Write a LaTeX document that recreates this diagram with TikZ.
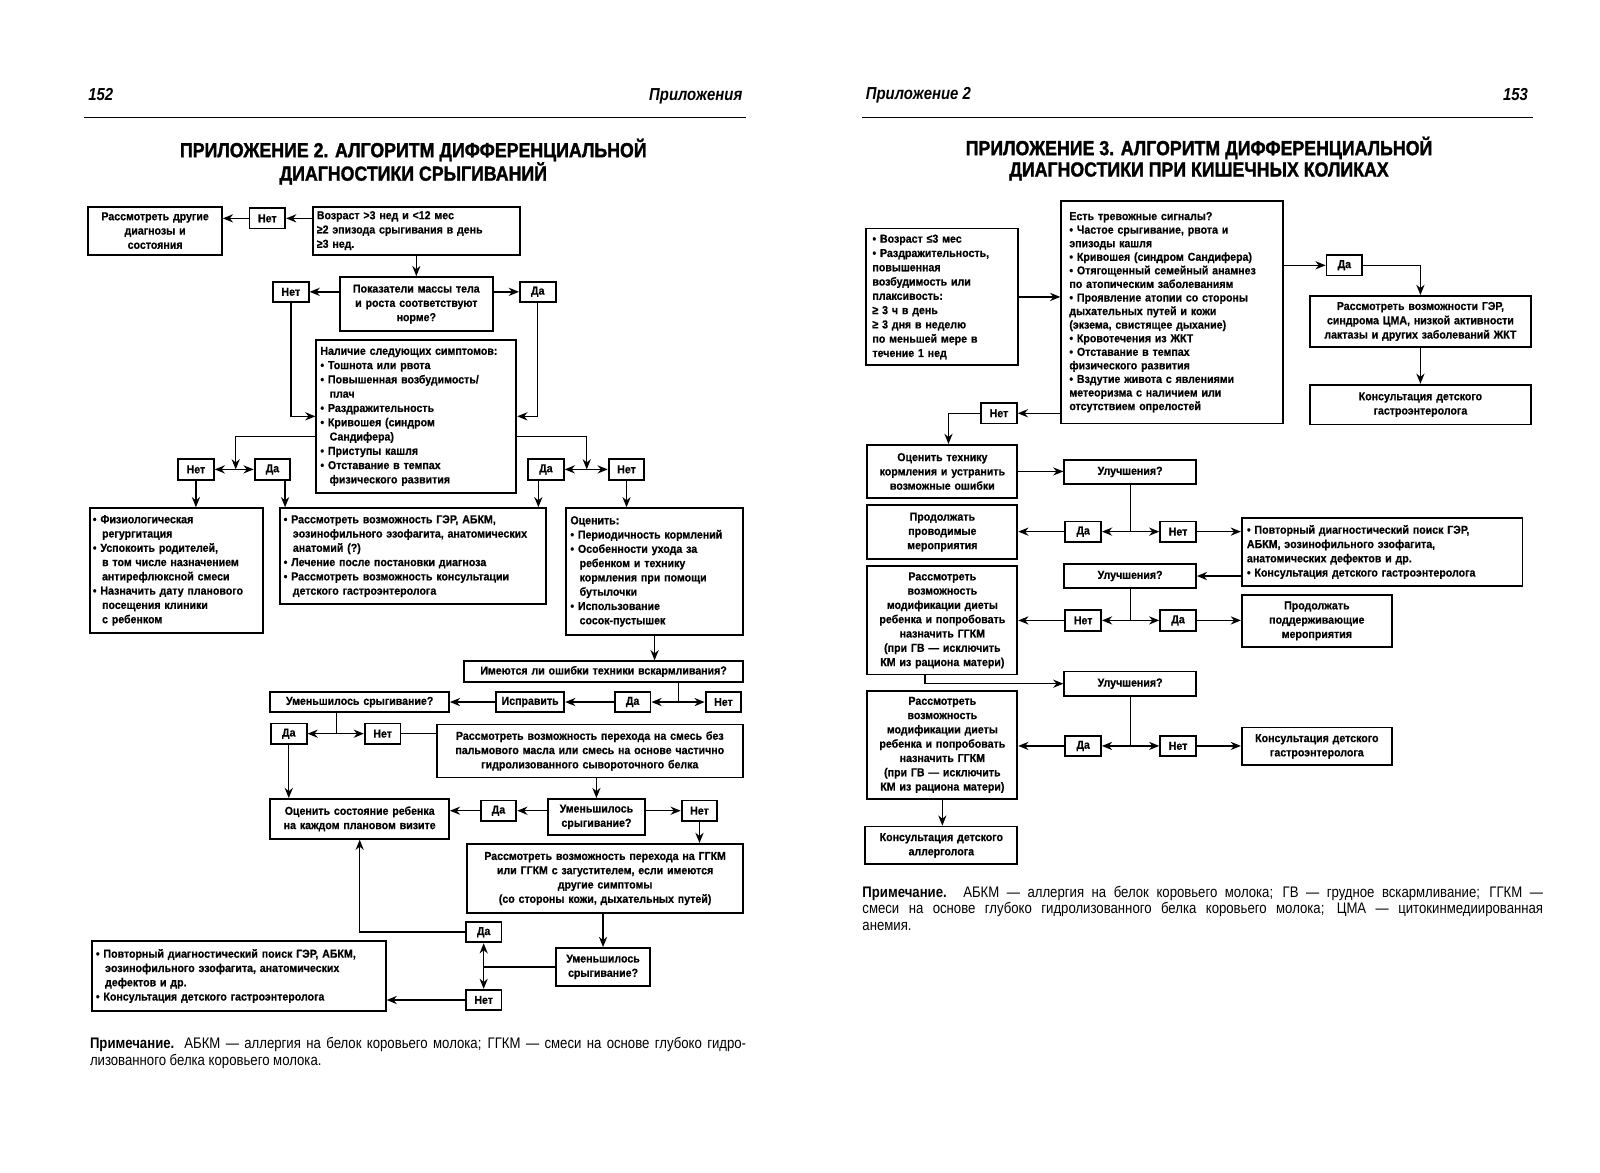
\documentclass[tikz,border=0pt]{standalone}
\usepackage{fontspec}
\setmainfont{Liberation Sans}
\newfontfamily\boxfont{Liberation Sans}[FakeStretch=0.92, FakeBold=0.6]
\newfontfamily\cndfont{Liberation Sans}[FakeStretch=0.86]
\newfontfamily\ttlfont{Liberation Sans}[FakeStretch=0.87, FakeBold=1.5]
\usetikzlibrary{arrows.meta}
\usetikzlibrary{calc}
\newcommand{\hg}{\hspace*{0.8em}}
\tikzset{
  box/.style={draw, line width=1.8pt, inner xsep=3pt, inner ysep=2pt,
    font=\boxfont\bfseries\fontsize{11.3}{14}\selectfont},
  cbox/.style={box, align=center},
  lbox/.style={box, align=left},
  yn/.style={box, minimum width=35pt, minimum height=20pt, inner xsep=1pt},
  arr/.style={line width=1.4pt, -{Stealth[length=10pt,width=8pt]}},
  ln/.style={line width=1.4pt},
  ttl/.style={font=\ttlfont\bfseries\fontsize{20}{23}\selectfont},
  hdr/.style={font=\cndfont\bfseries\itshape\fontsize{17}{20}\selectfont},
  note/.style={font=\cndfont\fontsize{15}{16.5}\selectfont, align=left,
    inner sep=0pt, anchor=north west}
}

\begin{document}
\begin{tikzpicture}[x=1pt, y=-1pt]
  \useasboundingbox (0,0) rectangle (1568,1149);

  % page 152
  \node[hdr, anchor=west] (pgl) at (83,93) {152};
  \node[hdr, anchor=east] (hdl) at (731,94) {Приложения};
  \draw[line width=1.5pt] (82,115) -- (731,115);
  \node[ttl] (tla) at (405,147) {ПРИЛОЖЕНИЕ 2. АЛГОРИТМ ДИФФЕРЕНЦИАЛЬНОЙ};
  \node[ttl] (tlb) at (405,170) {ДИАГНОСТИКИ СРЫГИВАНИЙ};

  \node[cbox, text width=125pt, minimum height=47pt] (othr) at (152,226)
    {Рассмотреть другие\\диагнозы и\\состояния};
  \node[yn] (n1) at (262,214) {Нет};
  \node[lbox, text width=195pt, minimum height=47pt, inner xsep=4pt] (age) at (408,226)
    {Возраст >3 нед и <12 мес\\≥2 эпизода срыгивания в день\\≥3 нед.};
  \node[cbox, text width=144pt, minimum height=53pt] (norm) at (408,298)
    {Показатели массы тела\\и роста соответствуют\\норме?};
  \node[yn] (n2) at (285,286) {Нет};
  \node[yn] (y2) at (527,286) {Да};
  \node[lbox, text width=188pt, minimum height=150pt, inner xsep=4pt] (symp) at (408,408)
    {Наличие следующих симптомов:\\• Тошнота или рвота\\• Повышенная возбудимость/\\\hg плач\\
     • Раздражительность\\• Кривошея (синдром\\\hg Сандифера)\\• Приступы кашля\\
     • Отставание в темпах\\\hg физического развития};
  \node[yn] (n3) at (192,460) {Нет};
  \node[yn] (y3) at (267,460) {Да};
  \node[yn] (y4) at (535,460) {Да};
  \node[yn] (n4) at (614,460) {Нет};

  \node[lbox, text width=164pt, minimum height=122pt] (phys) at (173,559)
    {• Физиологическая\\\hg регургитация\\• Успокоить родителей,\\\hg в том числе назначением\\
     \hg антирефлюксной смеси\\• Назначить дату планового\\\hg посещения клиники\\\hg с ребенком};
  \node[lbox, text width=253pt, minimum height=94pt, inner xsep=4pt] (gerd) at (404.5,545)
    {• Рассмотреть возможность ГЭР, АБКМ,\\\hg эозинофильного эзофагита, анатомических\\
     \hg анатомий (?)\\• Лечение после постановки диагноза\\
     • Рассмотреть возможность консультации\\\hg детского гастроэнтеролога};
  \node[lbox, text width=165pt, minimum height=124pt, inner xsep=4pt] (eval) at (641.5,560)
    {Оценить:\\• Периодичность кормлений\\• Особенности ухода за\\\hg ребенком и технику\\
     \hg кормления при помощи\\\hg бутылочки\\• Использование\\\hg сосок-пустышек};

  \node[cbox, text width=267pt, minimum height=20pt] (err) at (591.5,658)
    {Имеются ли ошибки техники вскармливания?};
  \node[yn] (y5) at (620,688) {Да};
  \node[yn] (n5) at (709,688) {Нет};
  \node[cbox, text width=61pt, minimum height=20pt] (fix) at (519.5,688) {Исправить};
  \node[cbox, text width=169pt, minimum height=20pt] (less1) at (352.5,688)
    {Уменьшилось срыгивание?};
  \node[yn] (y6) at (283,719) {Да};
  \node[yn] (n6) at (375,719) {Нет};
  \node[cbox, text width=294pt, minimum height=52pt] (palm) at (578,736)
    {Рассмотреть возможность перехода на смесь без\\пальмового масла или смесь на основе частично\\
     гидролизованного сывороточного белка};
  \node[cbox, text width=169pt, minimum height=39pt] (watch) at (352.5,802.5)
    {Оценить состояние ребенка\\на каждом плановом визите};
  \node[cbox, text width=89pt, minimum height=35pt] (less2) at (584.5,800.5)
    {Уменьшилось\\срыгивание?};
  \node[yn] (y7) at (488.5,794.5) {Да};
  \node[yn] (n7) at (685.5,794.5) {Нет};
  \node[cbox, text width=264pt, minimum height=68pt] (hydro) at (593,861)
    {Рассмотреть возможность перехода на ГГКМ\\или ГГКМ с загустителем, если имеются\\
     другие симптомы\\(со стороны кожи, дыхательных путей)};
  \node[cbox, text width=86pt, minimum height=37pt] (less3) at (591,947.5)
    {Уменьшилось\\срыгивание?};
  \node[yn] (y8) at (474,913.5) {Да};
  \node[yn] (n8) at (474,980) {Нет};
  \node[lbox, text width=280pt, minimum height=69pt, inner xsep=4pt] (rep) at (234,956.5)
    {• Повторный диагностический поиск ГЭР, АБКМ,\\\hg эозинофильного эзофагита, анатомических\\
     \hg дефектов и др.\\• Консультация детского гастроэнтеролога};

  \coordinate (jl) at (231,460);
  \coordinate (jr) at (575,460);
  \coordinate (a3) at ([xshift=-6pt]y3.south east);
  \coordinate (a4) at ([xshift=11pt]y4.south west);
  \coordinate (j5) at (665,688);
  \coordinate (j6) at (330,719);
  \coordinate (j8) at (474,947.5);

  \draw[arr] (age.west |- n1.east) -- (n1.east);
  \draw[arr] (n1.west) -- (othr.east |- n1.west);
  \draw[arr] (age.south) -- (norm.north);
  \draw[arr] (norm.west |- n2.east) -- (n2.east);
  \draw[arr] (norm.east |- y2.west) -- (y2.west);
  \draw[arr] (n2.south) |- (symp.west);
  \draw[arr] (y2.south) |- (symp.east);
  \draw[arr] ([yshift=-20pt]symp.west) -| (jl);
  \draw[arr] (jl) -- (n3.east);
  \draw[arr] (jl) -- (y3.west);
  \draw[arr] ([yshift=-20pt]symp.east) -| (jr);
  \draw[arr] (jr) -- (y4.east);
  \draw[arr] (jr) -- (n4.west);
  \draw[arr] (n3.south) -- (n3.south |- phys.north);
  \draw[arr] (a3) -- (a3 |- gerd.north);
  \draw[arr] (a4) -- (a4 |- gerd.north);
  \draw[arr] (n4.south) -- (n4.south |- eval.north);
  \draw[arr] (eval.south) -- (eval.south |- err.north);
  \draw[ln] (j5 |- err.south) -- (j5);
  \draw[arr] (j5) -- (y5.east);
  \draw[arr] (j5) -- (n5.west);
  \draw[arr] (y5.west) -- (fix.east);
  \draw[arr] (fix.west) -- (less1.east);
  \draw[ln] (j6 |- less1.south) -- (j6);
  \draw[arr] (j6) -- (y6.east);
  \draw[arr] (j6) -- (n6.west);
  \draw[ln] (n6.east) -- (palm.west |- n6.east);
  \draw[arr] (y6.south) -- (y6.south |- watch.north);
  \draw[arr] (less2.north |- palm.south) -- (less2.north);
  \draw[arr] (less2.west |- y7.east) -- (y7.east);
  \draw[arr] (y7.west) -- (watch.east |- y7.west);
  \draw[arr] (less2.east |- n7.west) -- (n7.west);
  \draw[arr] (n7.south) -- (n7.south |- hydro.north);
  \draw[arr] (less3.north |- hydro.south) -- (less3.north);
  \draw[ln] (less3.west) -- (j8);
  \draw[arr] (j8) -- (y8.south);
  \draw[arr] (j8) -- (n8.north);
  \draw[arr] (y8.west) -| (watch.south);
  \draw[arr] (n8.west) -- (rep.east |- n8.west);

  \node[note] (ntl) at (88,1016)
    {\makebox[643pt][s]{{\bfseries Примечание.} АБКМ — аллергия на белок коровьего молока; ГГКМ — смеси на основе глубоко гидро-}\\
     лизованного белка коровьего молока.};

  % page 153
  \node[hdr, anchor=west] (hdr) at (845,93) {Приложение 2};
  \node[hdr, anchor=east] (pgr) at (1501,93) {153};
  \draw[line width=1.5pt] (845,115) -- (1502,115);
  \node[ttl] (tra) at (1175,145) {ПРИЛОЖЕНИЕ 3. АЛГОРИТМ ДИФФЕРЕНЦИАЛЬНОЙ};
  \node[ttl] (trb) at (1175,168) {ДИАГНОСТИКИ ПРИ КИШЕЧНЫХ КОЛИКАХ};

  \node[lbox, text width=137pt, minimum height=134pt, inner xsep=6pt] (crit) at (923.5,291)
    {• Возраст ≤3 мес\\• Раздражительность,\\повышенная\\возбудимость или\\плаксивость:\\
     ≥ 3 ч в день\\≥ 3 дня в неделю\\по меньшей мере в\\течение 1 нед};
  \node[lbox, text width=201pt, minimum height=218pt, inner xsep=8pt,
    font=\boxfont\bfseries\fontsize{11.3}{13.3}\selectfont] (alarm) at (1148.5,306)
    {Есть тревожные сигналы?\\• Частое срыгивание, рвота и\\эпизоды кашля\\
     • Кривошея (синдром Сандифера)\\• Отягощенный семейный анамнез\\по атопическим заболеваниям\\
     • Проявление атопии со стороны\\дыхательных путей и кожи\\(экзема, свистящее дыхание)\\
     • Кровотечения из ЖКТ\\• Отставание в темпах\\физического развития\\
     • Вздутие живота с явлениями\\метеоризма с наличием или\\отсутствием опрелостей};
  \node[yn] (ry1) at (1317.5,260) {Да};
  \node[cbox, text width=210pt, minimum height=50pt] (rgerd) at (1392,315)
    {Рассмотреть возможности ГЭР,\\синдрома ЦМА, низкой активности\\лактазы и других заболеваний ЖКТ};
  \node[cbox, text width=210pt, minimum height=39pt] (gast1) at (1392,396.5)
    {Консультация детского\\гастроэнтеролога};
  \node[yn] (rn1) at (979,405) {Нет};
  \node[cbox, text width=141pt, minimum height=52pt] (tech) at (923.5,462)
    {Оценить технику\\кормления и устранить\\возможные ошибки};
  \node[cbox, text width=123pt, minimum height=23pt] (imp1) at (1107.5,462.5) {Улучшения?};
  \node[yn] (ry2) at (1061.5,521) {Да};
  \node[yn] (rn2) at (1154.5,521) {Нет};
  \node[cbox, text width=141pt, minimum height=53pt] (cont1) at (923.5,521.5)
    {Продолжать\\проводимые\\мероприятия};
  \node[lbox, text width=265pt, minimum height=66pt, inner xsep=5pt] (rrep) at (1354.5,541)
    {• Повторный диагностический поиск ГЭР,\\АБКМ, эозинофильного эзофагита,\\
     анатомических дефектов и др.\\• Консультация детского гастроэнтеролога};
  \node[cbox, text width=123pt, minimum height=23pt] (imp2) at (1107.5,564.5) {Улучшения?};
  \node[yn] (rn3) at (1061.5,608) {Нет};
  \node[yn] (ry3) at (1154.5,608) {Да};
  \node[cbox, text width=141pt, minimum height=106pt] (diet1) at (923.5,608)
    {Рассмотреть\\возможность\\модификации диеты\\ребенка и попробовать\\назначить ГГКМ\\
     (при ГВ — исключить\\КМ из рациона матери)};
  \node[cbox, text width=141pt, minimum height=51pt] (cont2) at (1290.5,608.5)
    {Продолжать\\поддерживающие\\мероприятия};
  \node[cbox, text width=123pt, minimum height=24pt] (imp3) at (1107.5,670) {Улучшения?};
  \node[yn] (ry4) at (1061.5,731) {Да};
  \node[yn] (rn4) at (1154.5,731) {Нет};
  \node[cbox, text width=141pt, minimum height=106pt] (diet2) at (923.5,730)
    {Рассмотреть\\возможность\\модификации диеты\\ребенка и попробовать\\назначить ГГКМ\\
     (при ГВ — исключить\\КМ из рациона матери)};
  \node[cbox, text width=141pt, minimum height=37pt] (gast2) at (1290.5,731.5)
    {Консультация детского\\гастроэнтеролога};
  \node[cbox, text width=143pt, minimum height=37pt] (allg) at (922.5,828.5)
    {Консультация детского\\аллерголога};

  \coordinate (k1) at (1108,521);
  \coordinate (k2) at (1108,608);
  \coordinate (k3) at (1108,731);
  \coordinate (d1) at ([xshift=-17pt]diet1.south);

  \draw[arr] (crit.east) -- (alarm.west |- crit.east);
  \draw[arr] (alarm.east |- ry1.west) -- (ry1.west);
  \draw[arr] (ry1.east) -| (rgerd.north);
  \draw[arr] (rgerd.south) -- (gast1.north);
  \draw[arr] (alarm.west |- rn1.east) -- (rn1.east);
  \draw[arr] (rn1.west) -| ([xshift=6pt]tech.north);
  \draw[arr] (tech.east) -- (imp1.west |- tech.east);
  \draw[ln] (k1 |- imp1.south) -- (k1);
  \draw[arr] (k1) -- (ry2.east);
  \draw[arr] (k1) -- (rn2.west);
  \draw[arr] (ry2.west) -- (cont1.east |- ry2.west);
  \draw[arr] (rn2.east) -- (rrep.west |- rn2.east);
  \draw[arr] (rrep.west |- imp2.east) -- (imp2.east);
  \draw[ln] (k2 |- imp2.south) -- (k2);
  \draw[arr] (k2) -- (rn3.east);
  \draw[arr] (k2) -- (ry3.west);
  \draw[arr] (rn3.west) -- (diet1.east |- rn3.west);
  \draw[arr] (ry3.east) -- (cont2.west |- ry3.east);
  \draw[arr] (d1) |- (imp3.west);
  \draw[ln] (k3 |- imp3.south) -- (k3);
  \draw[arr] (k3) -- (ry4.east);
  \draw[arr] (k3) -- (rn4.west);
  \draw[arr] (ry4.west) -- (diet2.east |- ry4.west);
  \draw[arr] (rn4.east) -- (gast2.west |- rn4.east);
  \draw[arr] (diet2.south) -- (diet2.south |- allg.north);

  \node[note] (ntr) at (845,868)
    {\makebox[667pt][s]{{\bfseries Примечание.} АБКМ — аллергия на белок коровьего молока; ГВ — грудное вскармливание; ГГКМ —}\\
     \makebox[667pt][s]{смеси на основе глубоко гидролизованного белка коровьего молока; ЦМА — цитокинмедиированная}\\
     анемия.};
\end{tikzpicture}
\end{document}
